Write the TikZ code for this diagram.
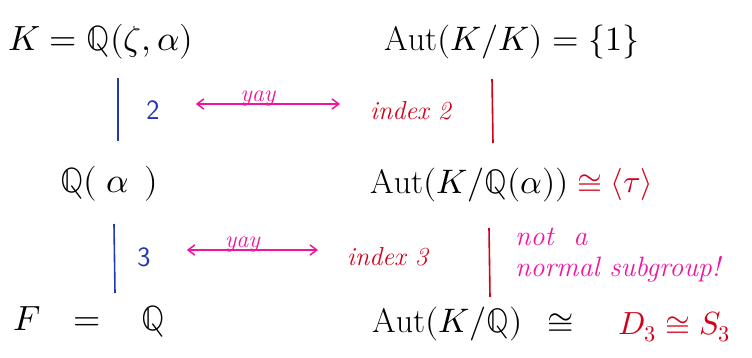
\documentclass[tikz,border=0pt]{standalone}
\usepackage{amsmath}
\usepackage{fontspec}
\usepackage{unicode-math}
\setmathfont{Latin Modern Math}
\usepackage{tikz}
\usetikzlibrary{arrows.meta,positioning,calc}
\usepackage{xcolor}
\definecolor{inkblue}{RGB}{35,55,175}
\definecolor{inkred}{RGB}{210,0,25}
\definecolor{inkpink}{RGB}{240,20,160}
\tikzset{
  fieldlbl/.style={anchor=west, inner sep=0pt, font=\fontsize{35}{40}\selectfont},
  grouplbl/.style={anchor=west, inner sep=0pt, font=\fontsize{34}{40}\selectfont},
  redlbl/.style={anchor=west, inner sep=0pt, text=inkred, font=\fontsize{32}{38}\selectfont},
  degree/.style={inner sep=0pt, text=inkblue, font=\sffamily\fontsize{28}{32}\selectfont},
  indexlbl/.style={anchor=west, inner sep=0pt, text=inkred, font=\itshape\fontsize{26}{30}\selectfont},
  notelbl/.style={anchor=west, inner sep=0pt, text=inkpink, align=left, font=\itshape\fontsize{28}{31}\selectfont},
  bluebar/.style={draw=inkblue, line width=1.6pt},
  redbar/.style={draw=inkred, line width=1.6pt},
  yayarrow/.style={{Straight Barb[length=2.4mm,width=3.6mm]}-{Straight Barb[length=2.4mm,width=3.6mm]}, draw=inkpink, line width=1.5pt},
  yaylbl/.style={inner sep=1pt, text=inkpink, font=\itshape\fontsize{24}{26}\selectfont}
}
\begin{document}
\begin{tikzpicture}[x=1pt,y=-1pt]
\useasboundingbox (0,0) rectangle (752,358);
% field tower
\node[fieldlbl] (kfield) at (8,42) {$K = \mathbb{Q}(\zeta,\alpha)$};
\node[fieldlbl] (qalpha) at (60,184) {$\mathbb{Q}(\;\alpha\;\,)$};
\node[fieldlbl] (ffield) at (13,322) {$F \mskip 12mu = \mskip 16mu \mathbb{Q}$};
\coordinate (b1top) at (118,78);
\coordinate (b1bot) at (118,141);
\coordinate (b2top) at (114,224);
\coordinate (b2bot) at (115,293);
\draw[bluebar] (b1top) -- (b1bot);
\draw[bluebar] (b2top) -- (b2bot);
\node[degree] (deg2) at (153,110) {2};
\node[degree] (deg3) at (144,257) {3};
% groups
\node[grouplbl] (autk) at (384,42) {$\mathrm{Aut}(K/K) = \{1\}$};
\node[grouplbl] (autqa) at (370,185) {$\mathrm{Aut}(K/\mathbb{Q}(\alpha))$};
\node[redlbl, right=8pt of autqa] (tau) {$\cong \langle\tau\rangle$};
\node[grouplbl] (autq) at (372,324) {$\mathrm{Aut}(K/\mathbb{Q})\mskip 8mu \cong$};
\node[redlbl] (dihedral) at (618,327) {$D_3 \cong S_3$};
\coordinate (r1top) at (492,79);
\coordinate (r1bot) at (493,143);
\coordinate (r2top) at (489,228);
\coordinate (r2bot) at (490,297);
\draw[redbar] (r1top) -- (r1bot);
\draw[redbar] (r2top) -- (r2bot);
\node[indexlbl] (idx2) at (370,111) {index 2};
\node[indexlbl] (idx3) at (347,257) {index 3};
\node[notelbl] (normal) at (515,255) {not\ \ a\\normal subgroup!};
% correspondence arrows
\draw[yayarrow] ($(deg2.east)+(36,-6)$) -- ($(idx2.west |- deg2)+(-30,-6)$) node[yaylbl, midway, above=-4pt, xshift=-10pt] (yay1) {yay};
\draw[yayarrow] ($(deg3.east)+(36,-7)$) -- ($(idx3.west |- deg3)+(-29,-7)$) node[yaylbl, midway, above=-4pt, xshift=-10pt] (yay2) {yay};
\end{tikzpicture}
\end{document}
